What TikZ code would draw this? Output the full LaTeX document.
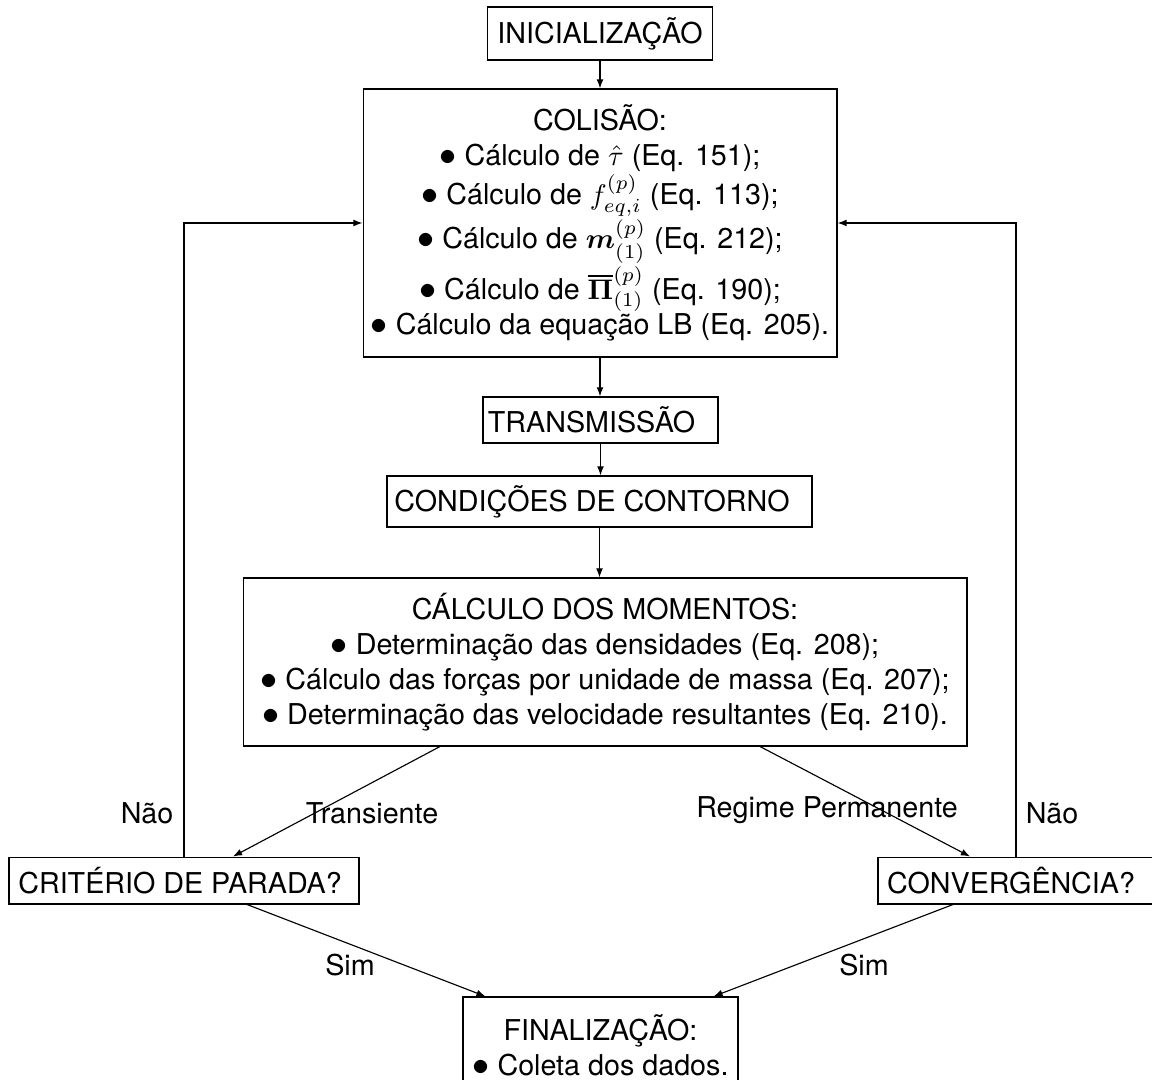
\documentclass[tikz,border=0pt]{standalone}
\usepackage{amsmath}
\usepackage[no-math]{fontspec}
\setmainfont{TeX Gyre Heros}
\usetikzlibrary{arrows.meta}
\tikzset{
  box/.style={draw, line width=0.4pt, inner sep=0pt, align=center, font=\fontsize{10.1}{12.3}\selectfont},
  lbl/.style={inner sep=0pt, font=\fontsize{10.1}{12.3}\selectfont},
  arr/.style={-{Latex[length=3.2pt,width=2.4pt]}, line width=0.4pt},
}
\newcommand{\bul}{{\fontsize{11.5}{12.3}\selectfont$\bullet$}\ }
\begin{document}
\begin{tikzpicture}[x=0.352pt,y=-0.352pt]
\useasboundingbox (0,0) rectangle (1152,1079);
\node[box, minimum width=79.2pt, minimum height=18.66pt] (init) at (600,33.5) {INICIALIZAÇÃO};
\node[box, minimum width=166.8pt, minimum height=94.3pt] (col) at (600,223)
  {COLISÃO:\\
   \bul Cálculo de $\hat{\tau}$ (Eq. 151);\\
   \bul Cálculo de $f_{eq,i}^{(p)}$ (Eq. 113);\\
   \bul Cálculo de $\boldsymbol{m}_{(1)}^{(p)}$ (Eq. 212);\\
   \bul Cálculo de $\overline{\mathbf{\Pi}}_{(1)}^{(p)}$ (Eq. 190);\\
   \bul Cálculo da equação LB (Eq. 205).};
\node[box, minimum width=82.7pt, minimum height=16.2pt] (trans) at (600.5,420) {TRANSMISSÃO\hspace{6.3pt}};
\node[box, minimum width=149.6pt, minimum height=17.95pt] (cond) at (599.5,501.5) {CONDIÇÕES DE CONTORNO\hspace{5.3pt}};
\node[box, minimum width=254.8pt, minimum height=59.1pt] (mom) at (605,662)
  {CÁLCULO DOS MOMENTOS:\\
   \bul Determinação das densidades (Eq. 208);\\
   \bul Cálculo das forças por unidade de massa (Eq. 207);\\
   \bul Determinação das velocidade resultantes (Eq. 210).};
\node[box, minimum width=123.2pt, minimum height=16.5pt] (crit) at (184,880.5) {CRITÉRIO DE PARADA?\hspace{2.8pt}};
\node[box, minimum width=97.2pt, minimum height=16.5pt] (conv) at (1016,880.5) {CONVERGÊNCIA?\hspace{3.5pt}};
\node[box, minimum width=96.8pt, minimum height=33.8pt] (fin) at (600.5,1045)
  {FINALIZAÇÃO:\\ \bul Coleta dos dados.};

\draw[arr] (init.south) -- (init.south |- col.north);
\draw[arr] (col.south) -- (col.south |- trans.north);
\draw[arr] (trans.south) -- (trans.south |- cond.north);
\draw[arr] (cond.south) -- (cond.south |- mom.north);
\draw[arr] ([xshift=-58.08pt]mom.south) -- ([xshift=17.25pt]crit.north);
\draw[arr] ([xshift=54.56pt]mom.south) -- ([xshift=-16.19pt]conv.north);
\draw[arr] ([xshift=22.18pt]crit.south) -- ([xshift=-40.48pt]fin.north);
\draw[arr] ([xshift=-22.18pt]conv.south) -- ([xshift=39.78pt]fin.north);
\draw[arr] (crit.north) -- (crit.north |- col.west) -- (col.west);
\draw[arr] (conv.north) -- (conv.north |- col.east) -- (col.east);

\node[lbl] (nao1) at (147,813) {Não};
\node[lbl] (trl) at (372,813) {Transiente};
\node[lbl] (rpl) at (827,810) {Regime Permanente};
\node[lbl] (nao2) at (1052,813) {Não};
\node[lbl] (sim1) at (350,965) {Sim};
\node[lbl] (sim2) at (864,965) {Sim};
\end{tikzpicture}
\end{document}
